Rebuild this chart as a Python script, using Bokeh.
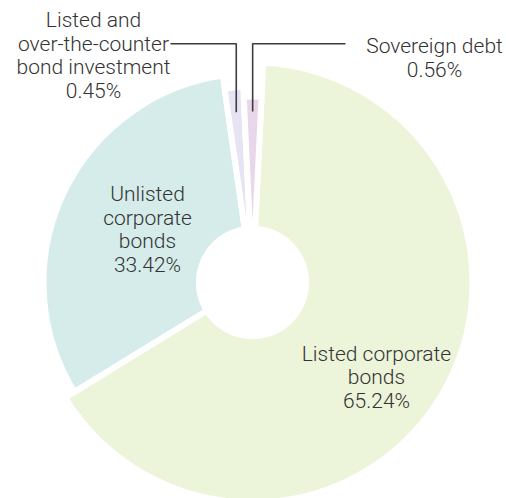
import numpy as np
from bokeh.plotting import figure
from bokeh.models import Range1d, ColumnDataSource
from bokeh.embed import file_html
from bokeh.resources import INLINE
from bokeh.core.properties import value

# ---------------- data ----------------
categories = ["Listed corporate bonds", "Unlisted corporate bonds",
              "Listed and over-the-counter bond investment", "Sovereign debt"]
label_text = ["Listed corporate\nbonds", "Unlisted\ncorporate\nbonds",
              "Listed and\nover-the-counter\nbond investment", "Sovereign debt"]
shares = [65.24, 33.42, 0.45, 0.56]
pct_labels = ["65.24%", "33.42%", "0.45%", "0.56%"]
colors = ["#ECF4DA", "#D5ECEA", "#E6E3F3", "#E8D6EB"]

# ---------------- layout ----------------
W, H = 506, 498
CX, CY = 252, H - 282          # pie centre (data units == pixels)
START_CW = 2.8                 # first slice starts this many degrees clockwise of 12 o'clock
MIN_ANGLE = 5.5                # small slices are widened to stay visible
GAP = 6                        # white gap between slices
VISIBLE_R = [217, 206, 193, 183]
HOLE_R = 56.5
FONT = value("'Roboto Light', Roboto, sans-serif")
TEXT_COLOR = "#333333"

ang = np.array(shares, dtype=float) / sum(shares) * 360.0
small = ang < MIN_ANGLE
surplus = (MIN_ANGLE - ang[small]).sum()
ang[small] = MIN_ANGLE
ang[1] -= surplus              # surplus taken from the neighbouring large slice

cw_end = START_CW + np.cumsum(ang)
cw_start = cw_end - ang
mid_cw = (cw_start + cw_end) / 2

def cw_to_math(a):
    return np.deg2rad(90.0 - a)

src = ColumnDataSource(dict(
    x=[CX] * 4, y=[CY] * 4,
    start=cw_to_math(cw_end), end=cw_to_math(cw_start),
    outer=[r + GAP / 2 for r in VISIBLE_R],
    color=colors,
))

p = figure(width=W, height=H, output_backend="svg", toolbar_location=None,
           x_range=Range1d(0, W), y_range=Range1d(0, H), min_border=0)
p.axis.visible = False
p.grid.visible = False
p.outline_line_color = None
p.background_fill_color = "white"

p.annular_wedge(x="x", y="y", inner_radius=HOLE_R - GAP / 2, outer_radius="outer",
                start_angle="start", end_angle="end", direction="anticlock",
                fill_color="color", line_color="white", line_width=GAP, source=src)
p.scatter([CX], [CY], size=2 * HOLE_R, marker="circle", fill_color="white", line_color=None)

# leader lines for the two small slices
LEAD_R = 171
TOP_Y = H - 43.3
lead_x = CX + LEAD_R * np.sin(np.deg2rad(mid_cw))
lead_y = CY + LEAD_R * np.cos(np.deg2rad(mid_cw))
p.line([lead_x[2], lead_x[2], 170], [lead_y[2], TOP_Y, TOP_Y], line_color="#3c3c3c", line_width=1.6)
p.line([lead_x[3], lead_x[3], 345], [lead_y[3], TOP_Y, TOP_Y], line_color="#3c3c3c", line_width=1.6)

# labels
label_pos = [(376, H - 377), (147, H - 229), (93, H - 55), (434, H - 57.5)]
txt = ColumnDataSource(dict(
    x=[pt[0] for pt in label_pos], y=[pt[1] for pt in label_pos],
    t=[f"{a}\n{b}" for a, b in zip(label_text, pct_labels)],
))
p.text(x="x", y="y", text="t", source=txt, text_align="center", text_baseline="middle",
       text_font=FONT, text_font_size="21px", text_color=TEXT_COLOR, text_line_height=0.98)

open("out.html", "w").write(file_html(p, INLINE))
